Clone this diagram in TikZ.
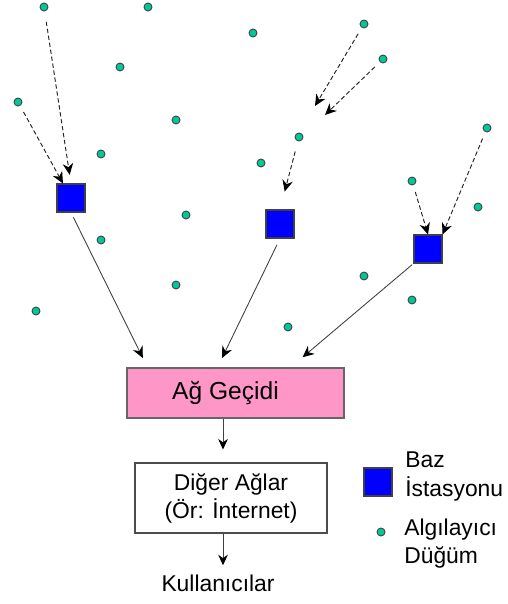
\documentclass[tikz,border=0pt]{standalone}
\usepackage{fontspec}
\setmainfont{Liberation Sans}
\usepackage{tikz}
\usetikzlibrary{arrows.meta}
\usetikzlibrary{calc}

\definecolor{sensorgreen}{RGB}{0,200,150}
\definecolor{gatepink}{RGB}{255,150,200}
\definecolor{stationblue}{RGB}{0,0,255}

\begin{document}
\begin{tikzpicture}[
        x=0.02cm, y=-0.02cm,
        font=\fontsize{13}{16}\selectfont,
        sensor/.style={circle, draw=black!75, fill=sensorgreen, line width=0.5pt, minimum size=0.16cm, inner sep=0pt},
        station/.style={rectangle, draw=black!75, fill=stationblue, line width=0.6pt, minimum size=0.56cm, inner sep=0pt},
        hop/.style={-{Stealth[length=6.5pt, width=6pt, black]}, black!85, line width=0.55pt, dash pattern=on 2.5pt off 1.5pt},
        uplink/.style={-{Stealth[length=6.5pt, width=6pt, black]}, black!75, line width=0.5pt},
        flow/.style={-{Stealth[length=6pt, width=5.5pt, black]}, black!75, line width=0.5pt}
    ]
        \useasboundingbox (0,0) rectangle (507,604);

        % --- Algilayici dugumler ---
        \node[sensor] (d1) at (44,7) {};
        \node[sensor] (d2) at (148,7) {};
        \node[sensor] (d3) at (253,33) {};
        \node[sensor] (d4) at (364,24) {};
        \node[sensor] (d5) at (383,59) {};
        \node[sensor] (d6) at (120,67) {};
        \node[sensor] (d7) at (18,102) {};
        \node[sensor] (d8) at (176,120) {};
        \node[sensor] (d9) at (487,128) {};
        \node[sensor] (d10) at (299,137) {};
        \node[sensor] (d11) at (101,154) {};
        \node[sensor] (d12) at (261,163) {};
        \node[sensor] (d13) at (412,181) {};
        \node[sensor] (d14) at (478,207) {};
        \node[sensor] (d15) at (186,215) {};
        \node[sensor] (d16) at (101,240) {};
        \node[sensor] (d17) at (364,276) {};
        \node[sensor] (d18) at (176,285) {};
        \node[sensor] (d19) at (412,300) {};
        \node[sensor] (d20) at (36,311) {};
        \node[sensor] (d21) at (288,327) {};

        % --- Baz istasyonlari ---
        \node[station] (bs1) at (71,198) {};
        \node[station] (bs2) at (280,224) {};
        \node[station] (bs3) at (428,249) {};

        % --- Ag gecidi ve diger aglar ---
        \node[draw=black!60, fill=gatepink, line width=0.6pt, minimum width=4.34cm, minimum height=1.0cm,
              label={[name=gwt, xshift=-0.2cm, font=\fontsize{14}{16}\selectfont]center:Ağ Geçidi}] (gw) at (235.5,393) {};
        \node[draw=black!70, fill=white, line width=0.6pt, minimum width=3.84cm, minimum height=1.4cm, align=center] (net) at (231,498) {Diğer Ağlar\\(Ör: İnternet)};
        \node[inner sep=0pt] (kul) at (218,583) {Kullanıcılar};
        \coordinate (ax) at (223,0);

        % --- Sekmeli iletim (kesikli) ---
        \draw[hop, shorten <=6pt, shorten >=5pt] (d1) -- (bs1.north);
        \draw[hop, shorten <=4pt] (d7) -- (bs1);
        \coordinate (t1) at (315,106);
        \coordinate (t2) at (325,115);
        \draw[hop, shorten <=4pt] (d4) -- (t1);
        \draw[hop, shorten <=4pt] (d5) -- (t2);
        \draw[hop, shorten <=6pt, shorten >=0.37cm] (d10) -- (bs2.north);
        \draw[hop, shorten <=4pt] (d13) -- (bs3.north);
        \draw[hop, shorten <=4pt] (d9) -- (bs3.north east);

        % --- Ag gecidine baglantilar ---
        \draw[uplink, shorten <=3pt, shorten >=6pt] (bs1.south) -- ($(gw.north west)+(21,0)$);
        \draw[uplink, shorten <=4pt, shorten >=6pt] (bs2.south) -- ($(gw.north west)+(91,0)$);
        \draw[uplink, shorten <=1pt, shorten >=9pt] (bs3.south west) -- ($(gw.north west)+(164,0)$);

        \draw[flow, shorten >=0.26cm] (gw.south -| ax) -- (net.north -| ax);
        \draw[flow, shorten >=0.18cm] (net.south -| ax) -- (kul.north -| ax);

        % --- Aciklama ---
        \node[station] (lgs) at (378,482) {};
        \node[anchor=west, align=left, inner sep=0pt] (lgst) at (405,476.5) {Baz\\İstasyonu};
        \node[sensor] (lgd) at (381,532) {};
        \node[anchor=west, align=left, inner sep=0pt] (lgdt) at (404,544) {Algılayıcı\\Düğüm};

    \end{tikzpicture}
\end{document}
